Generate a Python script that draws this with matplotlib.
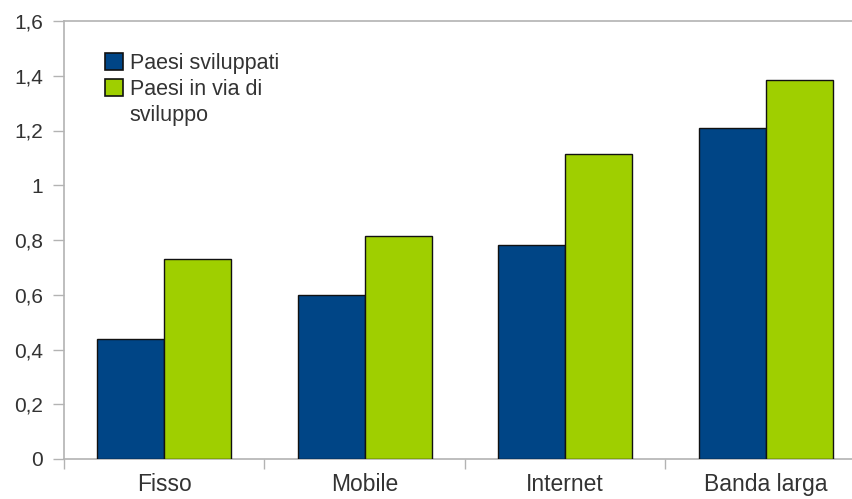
import matplotlib
matplotlib.use("Agg")
import matplotlib.pyplot as plt
from matplotlib.patches import Patch
from matplotlib.ticker import FixedLocator, FuncFormatter
import numpy as np

categories = ["Fisso", "Mobile", "Internet", "Banda larga"]
paesi_sviluppati = [0.44, 0.60, 0.78, 1.21]
paesi_in_via_di_sviluppo = [0.73, 0.815, 1.115, 1.385]
y_ticks = [0, 0.2, 0.4, 0.6, 0.8, 1.0, 1.2, 1.4, 1.6]

plt.rcParams["font.family"] = ["Liberation Sans", "DejaVu Sans"]

BLUE = "#004586"
GREEN = "#9fcf00"
GREY = "#b3b3b3"
TEXT = "#333333"

fig = plt.figure(figsize=(8.53, 4.99), dpi=100)
ax = fig.add_axes([64 / 853, 1 - 459 / 499, 802 / 853, (459 - 21) / 499])

x = np.arange(len(categories))
w = 1 / 3
ax.bar(x - w / 2, paesi_sviluppati, width=w, color=BLUE,
       edgecolor="#111111", linewidth=1.0, zorder=3)
ax.bar(x + w / 2, paesi_in_via_di_sviluppo, width=w, color=GREEN,
       edgecolor="#111111", linewidth=1.0, zorder=3)

ax.set_xlim(-0.5, len(categories) - 0.5)
ax.set_ylim(0, 1.6)

# y axis
ax.yaxis.set_major_locator(FixedLocator(y_ticks))
ax.yaxis.set_major_formatter(FuncFormatter(
    lambda v, p: ("%g" % round(v, 1)).replace(".", ",")))
ax.tick_params(axis="y", direction="out", length=8, width=1, color=GREY,
               pad=7, labelsize=15, labelcolor=TEXT)

# x axis: labels centred, tick marks between categories
ax.set_xticks(x)
ax.set_xticklabels(categories)
ax.xaxis.set_minor_locator(FixedLocator(np.arange(-0.5, len(categories), 1.0)))
ax.tick_params(axis="x", which="major", length=0, pad=10, labelsize=16.5,
               labelcolor=TEXT)
ax.tick_params(axis="x", which="minor", direction="out", length=7, width=1,
               color=GREY)

for side in ("left", "top", "bottom"):
    ax.spines[side].set_color(GREY)
    ax.spines[side].set_linewidth(1.2)
ax.spines["right"].set_visible(False)

handles = [
    Patch(facecolor=BLUE, edgecolor="#111111", linewidth=1.2),
    Patch(facecolor=GREEN, edgecolor="#111111", linewidth=1.2),
    Patch(facecolor="none", edgecolor="none"),
]
labels = ["Paesi sviluppati", "Paesi in via di", "sviluppo"]
leg = ax.legend(handles, labels, loc="upper left",
                bbox_to_anchor=(41 / 802, (459 - 53) / 438),
                frameon=False, fontsize=15.5, handlelength=0.85,
                handleheight=0.85, handletextpad=0.3, labelspacing=0.22,
                borderpad=0, borderaxespad=0)
for t in leg.get_texts():
    t.set_color(TEXT)

fig.savefig("out.png", dpi=100)
